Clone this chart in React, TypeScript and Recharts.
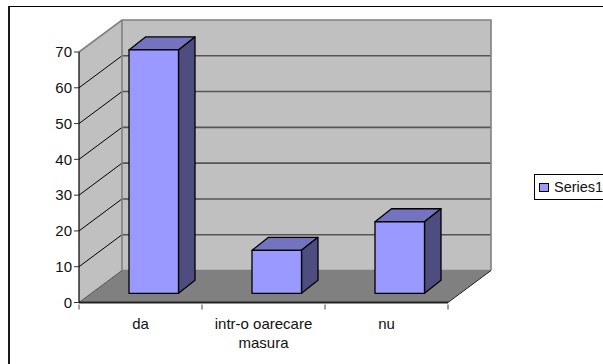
import { Bar, BarChart, Legend, ReferenceArea, XAxis, YAxis } from "recharts";

const categories = ["da", "intr-o oarecare masura", "nu"];
const series1 = [68, 12, 20];
const yTicks = [0, 10, 20, 30, 40, 50, 60, 70];

const FONT = '"Liberation Sans", Arial, sans-serif';
const FONT_SIZE = 15;
const TEXT_COLOR = "#111";

// receding offset of the chart box and of each bar
const WALL_DX = 43;
const WALL_DY = 32;
const BAR_DX = 16.5;
const BAR_DY = 13;
const BAR_SHIFT_X = 13;
const BAR_SHIFT_Y = 9.2;
const BAND = 123;

const rows = categories.map((name, i) => ({ name, value: series1[i] }));

function Walls({ x, y, width, height }: any) {
  const bottom = y + height;
  const backX = x + WALL_DX;
  const backTop = y - WALL_DY;
  const backBottom = bottom - WALL_DY;
  const yOf = (t: number) => bottom - (t / 70) * height;
  const inner = yTicks.slice(1, -1);
  return (
    <g>
      <polygon
        points={`${x},${bottom} ${backX},${backBottom} ${backX},${backTop} ${x},${y}`}
        fill="#c0c0c0"
      />
      <rect x={backX} y={backTop} width={width} height={height} fill="#c0c0c0" />
      <polygon
        points={`${x},${bottom} ${x + width},${bottom} ${x + width + WALL_DX},${backBottom} ${backX},${backBottom}`}
        fill="#808080"
      />
      {inner.map((t) => (
        <g key={t}>
          <line x1={x} y1={yOf(t)} x2={backX} y2={yOf(t) - WALL_DY} stroke="#000" strokeWidth={1} />
          <line x1={backX} y1={yOf(t) - WALL_DY} x2={backX + width} y2={yOf(t) - WALL_DY} stroke="#555" strokeWidth={1.6} />
        </g>
      ))}
      <path
        d={`M${x} ${y} L${backX} ${backTop} H${backX + width} V${backBottom} M${backX} ${backTop} V${backBottom} H${backX + width}`}
        fill="none"
        stroke="#808080"
        strokeWidth={1.6}
      />
      <line x1={x} y1={bottom} x2={backX} y2={backBottom} stroke="#555" strokeWidth={1} />
      <line x1={x + width} y1={bottom} x2={x + width + WALL_DX} y2={backBottom} stroke="#222" strokeWidth={1} />
    </g>
  );
}

function Box3D({ x, y, width, height }: any) {
  const left = x + BAR_SHIFT_X;
  const top = y - BAR_SHIFT_Y;
  const right = left + width;
  const bottom = top + height;
  return (
    <g stroke="#000" strokeWidth={1.3} strokeLinejoin="round">
      <polygon
        points={`${left},${top} ${left + BAR_DX},${top - BAR_DY} ${right + BAR_DX},${top - BAR_DY} ${right},${top}`}
        fill="#7373bf"
      />
      <polygon
        points={`${right},${top} ${right + BAR_DX},${top - BAR_DY} ${right + BAR_DX},${bottom - BAR_DY} ${right},${bottom}`}
        fill="#4d4d80"
      />
      <rect x={left} y={top} width={width} height={height} fill="#9999ff" />
    </g>
  );
}

function CategoryTick({ x, y, payload, index }: any) {
  const words: string[] = payload.value === categories[1] ? ["intr-o oarecare", "masura"] : [payload.value];
  const edge = x - BAND / 2;
  return (
    <g>
      <line x1={edge} y1={y - 6} x2={edge} y2={y - 1} stroke="#444" strokeWidth={1} />
      {index === categories.length - 1 && (
        <line x1={edge + BAND} y1={y - 6} x2={edge + BAND} y2={y - 1} stroke="#444" strokeWidth={1} />
      )}
      <text x={x} y={y} textAnchor="middle" fontFamily={FONT} fontSize={FONT_SIZE} fill={TEXT_COLOR}>
        {words.map((w, i) => (
          <tspan key={w} x={x} y={y + 18.5 + i * 19}>
            {w}
          </tspan>
        ))}
      </text>
    </g>
  );
}

function LegendBox({ payload }: any) {
  const entry = payload?.[0];
  return (
    <div
      style={{
        boxSizing: "border-box",
        width: 86,
        height: 26,
        border: "1px solid #000",
        background: "#fff",
        display: "flex",
        alignItems: "center",
        paddingLeft: 4,
        fontFamily: FONT,
        fontSize: 14.5,
        color: TEXT_COLOR,
      }}
    >
      <span
        style={{
          boxSizing: "border-box",
          width: 10,
          height: 9,
          marginRight: 5,
          border: "1px solid #000",
          background: "#9999ff",
        }}
      />
      {entry?.value}
    </div>
  );
}

export default function App() {
  return (
    <div style={{ position: "absolute", left: 0, top: 0, width: 603, height: 364, overflow: "hidden", background: "#fff" }}>
      <div
        style={{
          position: "absolute",
          left: 8,
          top: 6,
          width: 700,
          height: 500,
          borderLeft: "2px solid #1a1a1a",
          borderTop: "1px solid #000",
        }}
      />
      <BarChart
        width={603}
        height={364}
        data={rows}
        margin={{ top: 52, right: 69, bottom: 0, left: 9 }}
        barSize={49.5}
        style={{ position: "absolute", left: 0, top: 0 }}
      >
        <ReferenceArea y1={0} y2={70} shape={(p: any) => <Walls {...p} />} ifOverflow="visible" />
        <XAxis
          dataKey="name"
          height={61.5}
          interval={0}
          axisLine={{ stroke: "#222", strokeWidth: 2 }}
          tickLine={false}
          tick={<CategoryTick />}
        />
        <YAxis
          width={70}
          domain={[0, 70]}
          ticks={yTicks}
          interval={0}
          axisLine={{ stroke: "#000", strokeWidth: 1.2 }}
          tickLine={{ stroke: "#333" }}
          tickSize={5}
          tickMargin={2}
          tick={{ fill: TEXT_COLOR, fontSize: FONT_SIZE, fontFamily: FONT }}
        />
        <Bar dataKey="value" name="Series1" fill="#9999ff" shape={<Box3D />} isAnimationActive={false} />
        <Legend
          layout="vertical"
          align="right"
          verticalAlign="top"
          width={86}
          wrapperStyle={{ left: 534, top: 174, right: "auto" }}
          content={<LegendBox />}
        />
      </BarChart>
    </div>
  );
}
